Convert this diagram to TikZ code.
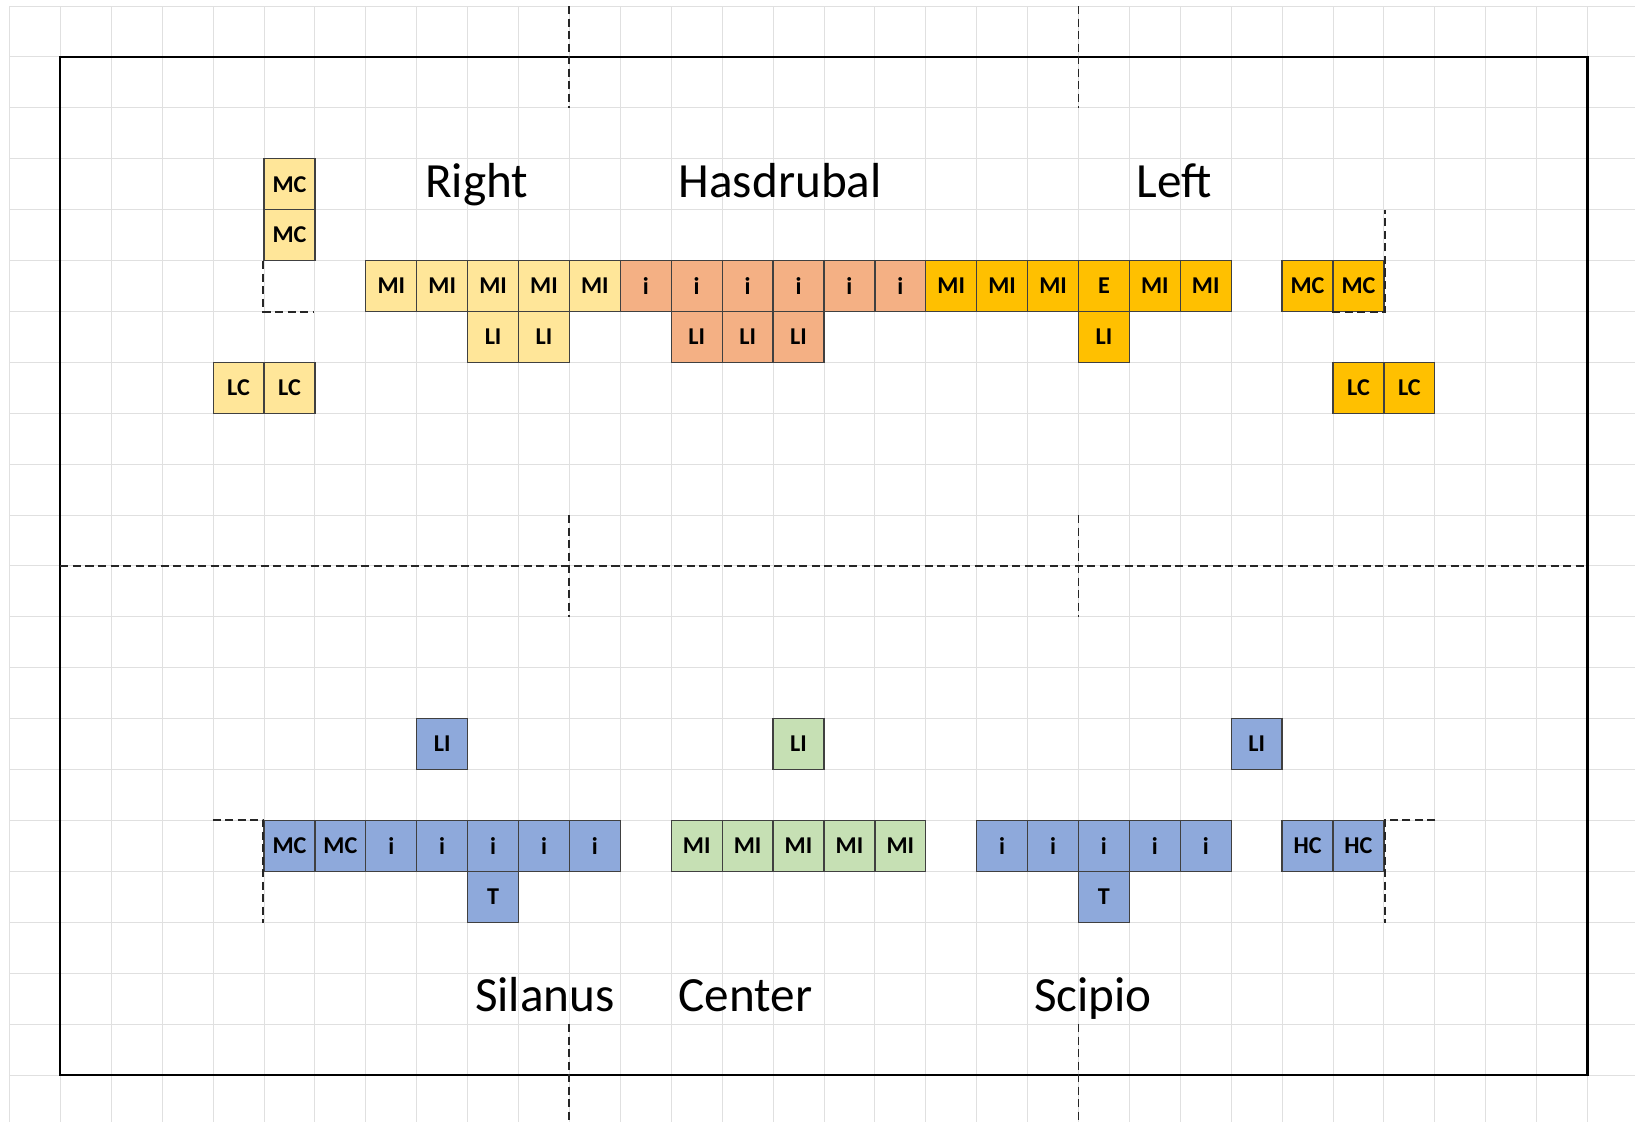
\documentclass[tikz,border=0pt]{standalone}
\usepackage{fontspec}
\setmainfont{Carlito}
\definecolor{rwing}{HTML}{FFE699}
\definecolor{hcentre}{HTML}{F4B084}
\definecolor{lwing}{HTML}{FFC000}
\definecolor{roman}{HTML}{8EA9DB}
\definecolor{rcentre}{HTML}{C6E0B4}
\begin{document}
\begin{tikzpicture}[x=1cm,y=-1cm,
    cell/.style={draw=black!75,line width=0.7pt,minimum size=1cm,inner sep=0pt,
      font=\fontsize{13.5}{15}\selectfont\bfseries},
    yel/.style={cell,fill=rwing},
    sal/.style={cell,fill=hcentre},
    gld/.style={cell,fill=lwing},
    blu/.style={cell,fill=roman},
    grn/.style={cell,fill=rcentre},
    lbl/.style={anchor=base west,inner sep=0pt,font=\fontsize{27.5}{30}\selectfont},
    dsh/.style={line width=1.1pt,dash pattern=on 4.5pt off 2.5pt,black!85},
    gridln/.style={line width=0.5pt,black!12}]
  \useasboundingbox (-0.187,-0.118) rectangle (31.933,21.925);
  % sheet grid
  \foreach \c in {0,...,31}{ \draw[gridln] (\c,0) -- (\c,21.925); }
  \foreach \r in {0,...,21}{ \draw[gridln] (0,\r) -- (31.933,\r); }
  % field
  \draw[line width=1.2pt] (1,1) rectangle (31,21);
  \draw[dsh] (1,11) -- (31,11);
  \foreach \c in {11,21}{
    \draw[dsh] (\c,0) -- (\c,2);
    \draw[dsh] (\c,10) -- (\c,12);
    \draw[dsh] (\c,20) -- (\c,21.925);
  }
  % Carthaginian right
  \node[yel] (rmc1) at (5.5,3.5) {MC};
  \node[yel] (rmc2) at (5.5,4.5) {MC};
  \foreach \c in {4,5}{ \node[yel] (rlc\c) at (\c+.5,7.5) {LC}; }
  \foreach \c in {7,...,11}{ \node[yel] (rmi\c) at (\c+.5,5.5) {MI}; }
  \foreach \c in {9,10}{ \node[yel] (rli\c) at (\c+.5,6.5) {LI}; }
  \draw[dsh] (rmc2.south west) -- ++(0,1) -- ++(1,0);
  % Hasdrubal
  \foreach \c in {12,...,17}{ \node[sal] (hi\c) at (\c+.5,5.5) {i}; }
  \foreach \c in {13,14,15}{ \node[sal] (hli\c) at (\c+.5,6.5) {LI}; }
  % Carthaginian left
  \foreach \c/\t in {18/MI,19/MI,20/MI,21/E,22/MI,23/MI}{
    \node[gld] (lmi\c) at (\c+.5,5.5) {\t}; }
  \node[gld] (lli) at (21.5,6.5) {LI};
  \foreach \c in {25,26}{ \node[gld] (lmc\c) at (\c+.5,5.5) {MC}; }
  \foreach \c in {26,27}{ \node[gld] (llc\c) at (\c+.5,7.5) {LC}; }
  \draw[dsh] (lmc26.south west) -- (lmc26.south east) -- ++(0,-2);
  % Silanus
  \node[blu] (sli) at (8.5,14.5) {LI};
  \foreach \c/\t in {5/MC,6/MC,7/i,8/i,9/i,10/i,11/i}{
    \node[blu] (s\c) at (\c+.5,16.5) {\t}; }
  \node[blu] (st) at (9.5,17.5) {T};
  \draw[dsh] ([xshift=-1cm]s5.north west) -- (s5.north west) -- (s5.south west) -- ++(0,1);
  % Roman centre
  \node[grn] (cli) at (15.5,14.5) {LI};
  \foreach \c in {13,...,17}{ \node[grn] (cmi\c) at (\c+.5,16.5) {MI}; }
  % Scipio
  \node[blu] (pli) at (24.5,14.5) {LI};
  \foreach \c in {19,...,23}{ \node[blu] (pi\c) at (\c+.5,16.5) {i}; }
  \node[blu] (pt) at (21.5,17.5) {T};
  \foreach \c in {25,26}{ \node[blu] (phc\c) at (\c+.5,16.5) {HC}; }
  \draw[dsh] ([xshift=1cm]phc26.north east) -- (phc26.north east) -- (phc26.south east) -- ++(0,1);
  % titles
  \node[lbl] (tright) at (8.16,3.77) {Right};
  \node[lbl] (thasd) at (13.14,3.77) {Hasdrubal};
  \node[lbl] (tleft) at (22.14,3.77) {Left};
  \node[lbl] (tsil) at (9.14,19.75) {Silanus};
  \node[lbl] (tcen) at (13.14,19.75) {Center};
  \node[lbl] (tsci) at (20.12,19.75) {Scipio};
\end{tikzpicture}
\end{document}
